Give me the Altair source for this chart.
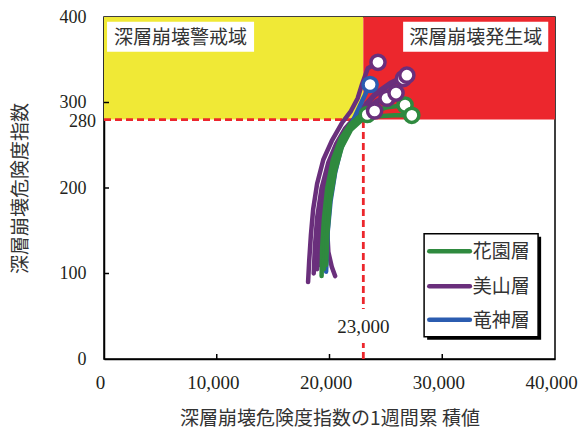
import altair as alt
import pandas as pd

# ---- series (cumulative 1-week index, danger index) per rainfall event ----
FORMATIONS = ["花園層", "美山層", "竜神層"]
COLORS = ["#2f8a3f", "#6a2f7c", "#2b5cb0"]

hanazono_a_x = [19300, 19350, 19500, 19800, 20300, 21000, 21800, 22600, 23350]
hanazono_a_y = [97, 130, 163, 200, 233, 258, 274, 283, 286]
hanazono_b_x = [19500, 19600, 19800, 20200, 20700, 21500, 22400, 23500, 25000, 26700]
hanazono_b_y = [105, 140, 175, 210, 240, 262, 278, 288, 294, 297]
hanazono_c_x = [19700, 19800, 20050, 20500, 21100, 21900, 22900, 24300, 25800, 27300]
hanazono_c_y = [110, 145, 185, 220, 248, 268, 280, 284, 285, 285]

miyama_a_x = [18100, 18200, 18350, 18550, 18900, 19450, 20200, 21100, 21900, 22500, 22900, 23400, 24300]
miyama_a_y = [90, 115, 145, 175, 205, 233, 255, 276, 290, 305, 322, 340, 347]
miyama_b_x = [20500, 20200, 19900, 19800, 19900, 20200, 20700, 21300, 22000, 22800, 23500, 24000]
miyama_b_y = [97, 108, 125, 150, 185, 215, 242, 262, 276, 286, 290, 290]
miyama_c_x = [18600, 18700, 18900, 19300, 19900, 20600, 21400, 22300, 23300, 24200, 25100]
miyama_c_y = [100, 130, 165, 200, 230, 252, 270, 283, 294, 300, 305]
miyama_d_x = [18900, 19000, 19250, 19700, 20300, 21100, 22000, 23000, 24200, 25900]
miyama_d_y = [105, 135, 170, 205, 235, 258, 275, 290, 302, 311]
miyama_e_x = [19100, 19200, 19500, 20000, 20800, 21800, 22900, 24000, 25300, 26560]
miyama_e_y = [110, 145, 185, 220, 250, 272, 292, 308, 320, 328]
miyama_f_x = [19200, 19300, 19600, 20100, 20900, 21900, 23000, 24100, 25400, 26860]
miyama_f_y = [115, 150, 190, 225, 253, 275, 295, 311, 323, 332]

ryujin_a_x = [19700, 19750, 19850, 20100, 20500, 21000, 21600, 22300, 22900, 23300, 23600]
ryujin_a_y = [102, 120, 150, 185, 218, 245, 265, 285, 302, 313, 321]

traces = [
    ("美山層", "m_a", miyama_a_x, miyama_a_y),
    ("美山層", "m_b", miyama_b_x, miyama_b_y),
    ("美山層", "m_c", miyama_c_x, miyama_c_y),
    ("美山層", "m_d", miyama_d_x, miyama_d_y),
    ("美山層", "m_e", miyama_e_x, miyama_e_y),
    ("美山層", "m_f", miyama_f_x, miyama_f_y),
    ("竜神層", "r_a", ryujin_a_x, ryujin_a_y),
    ("花園層", "h_a", hanazono_a_x, hanazono_a_y),
    ("花園層", "h_b", hanazono_b_x, hanazono_b_y),
    ("花園層", "h_c", hanazono_c_x, hanazono_c_y),
]

THRESHOLD_X = 23000
THRESHOLD_Y = 280

X_TICKS = [0, 10000, 20000, 30000, 40000]
Y_TICKS = [0, 100, 200, 300, 400]

rows = []
for formation, tid, xs, ys in traces:
    for i, (x, y) in enumerate(zip(xs, ys)):
        rows.append({"formation": formation, "trace": tid, "step": i, "x": x, "y": y})
lines_df = pd.DataFrame(rows)

# end point of every event, drawn as an open circle
ends_df = lines_df.groupby("trace", sort=False).tail(1).copy()
circle_order = {"花園層": 0, "竜神層": 1, "美山層": 2}
ends_df["z"] = ends_df["formation"].map(circle_order)
ends_df = ends_df.sort_values("z", kind="stable")

zones_df = pd.DataFrame({
    "x": [0, THRESHOLD_X], "x2": [THRESHOLD_X, 40000],
    "y": [THRESHOLD_Y, THRESHOLD_Y], "y2": [400, 400],
    "fill": ["#f0e936", "#ec272d"],
})
zone_labels_df = pd.DataFrame({
    "label": ["深層崩壊警戒域", "深層崩壊発生域"],
    "x": [270, 26530], "x2": [13310, 39400],
    "y": [359.5, 359.5], "y2": [394.5, 394.5],
})
zone_labels_df["xc"] = (zone_labels_df["x"] + zone_labels_df["x2"]) / 2
zone_labels_df["yc"] = (zone_labels_df["y"] + zone_labels_df["y2"]) / 2

# legend panel, laid out in the plot's own data coordinates (lower right)
LEG_BOX = {"x": 28390, "x2": 38500, "y": 26, "y2": 146.5}
LEG_SHADOW = {"x": 28660, "x2": 38770, "y": 22.5, "y2": 143}
legend_df = pd.DataFrame({
    "formation": FORMATIONS,
    "x": [28850] * 3, "x2": [32450] * 3, "xt": [32700] * 3,
    "y": [126, 85, 46],
})

W, H = 451, 342
SERIF = "Liberation Serif"
CJK = "Noto Sans CJK JP"

xscale = alt.Scale(domain=[0, 40000], nice=False, zero=False)
yscale = alt.Scale(domain=[0, 400], nice=False, zero=False)
cscale = alt.Scale(domain=FORMATIONS, range=COLORS)

xaxis = alt.Axis(values=X_TICKS, format=",", labelExpr="format(datum.value, ',')",
                 title="深層崩壊危険度指数の1週間累 積値",
                 ticks=False, grid=False, labelFlush=False, labelPadding=14,
                 labelOffset=-4, titlePadding=17)
yaxis = alt.Axis(values=Y_TICKS, format="d", title="深層崩壊危険度指数", ticks=False, grid=False,
                 labelPadding=18, labelFontSize=18, titlePadding=29)

zones = alt.Chart(zones_df).mark_rect().encode(
    x=alt.X("x:Q", scale=xscale, axis=xaxis), x2="x2:Q",
    y=alt.Y("y:Q", scale=yscale, axis=yaxis), y2="y2:Q",
    fill=alt.Fill("fill:N", scale=None),
)

label_boxes = alt.Chart(zone_labels_df).mark_rect(fill="white").encode(
    x="x:Q", x2="x2:Q", y="y:Q", y2="y2:Q"
)
label_text = alt.Chart(zone_labels_df).mark_text(
    font=CJK, fontSize=19, color="#333333", align="center", baseline="middle", dy=1
).encode(x="xc:Q", y="yc:Q", text="label:N")

h_dash = alt.Chart(pd.DataFrame({"x": [0], "x2": [THRESHOLD_X], "y": [THRESHOLD_Y]})).mark_rule(
    color="#ec272d", strokeWidth=2.8, strokeDash=[7, 4]
).encode(x="x:Q", x2="x2:Q", y="y:Q")
v_dash = alt.Chart(pd.DataFrame({"x": [THRESHOLD_X], "y": [0], "y2": [THRESHOLD_Y]})).mark_rule(
    color="#ec272d", strokeWidth=2.8, strokeDash=[7, 4]
).encode(x="x:Q", y="y:Q", y2="y2:Q")

# inward tick marks
x_ticks = alt.Chart(pd.DataFrame({"v": X_TICKS[1:-1]})).mark_rule(color="black", strokeWidth=1.5).encode(
    x="v:Q", y=alt.value(H), y2=alt.value(H - 5)
)
y_ticks = alt.Chart(pd.DataFrame({"v": Y_TICKS[1:-1]})).mark_rule(color="black", strokeWidth=1.5).encode(
    y="v:Q", x=alt.value(0), x2=alt.value(5)
)

curves = alt.Chart(lines_df).mark_line(strokeWidth=4.5, strokeCap="round", strokeJoin="round").encode(
    x="x:Q", y="y:Q",
    color=alt.Color("formation:N", scale=cscale, legend=None),
    detail="trace:N", order="step:Q",
)

ends = alt.Chart(ends_df).mark_point(
    filled=False, fill="white", fillOpacity=1, size=200, strokeWidth=3.5, opacity=1
).encode(
    x="x:Q", y="y:Q",
    stroke=alt.Stroke("formation:N", scale=cscale, legend=None),
    order="z:Q",
)

# white gap in the vertical threshold line behind its value label
tval_box = alt.Chart(pd.DataFrame({"x": [22750], "x2": [23250]})).mark_rect(fill="white").encode(
    x="x:Q", x2="x2:Q", y=alt.value(292), y2=alt.value(326)
)
tval_text = alt.Chart(pd.DataFrame({"x": [THRESHOLD_X], "t": ["23,000"]})).mark_text(
    font=SERIF, fontSize=19, color="#231f20", align="center", baseline="middle"
).encode(x="x:Q", y=alt.value(310), text="t:N")

y280 = alt.Chart(pd.DataFrame({"y": [THRESHOLD_Y], "t": ["280"]})).mark_text(
    font=SERIF, fontSize=18, color="#231f20", align="right", baseline="middle", dy=2
).encode(x=alt.value(-8), y="y:Q", text="t:N")

leg_shadow = alt.Chart(pd.DataFrame([LEG_SHADOW])).mark_rect(fill="black").encode(
    x="x:Q", x2="x2:Q", y="y:Q", y2="y2:Q"
)
leg_box = alt.Chart(pd.DataFrame([LEG_BOX])).mark_rect(
    fill="white", stroke="black", strokeWidth=1.5
).encode(x="x:Q", x2="x2:Q", y="y:Q", y2="y2:Q")
leg_lines = alt.Chart(legend_df).mark_rule(strokeWidth=4.5, strokeCap="round").encode(
    x="x:Q", x2="x2:Q", y="y:Q",
    color=alt.Color("formation:N", scale=cscale, legend=None),
)
leg_text = alt.Chart(legend_df).mark_text(
    font=CJK, fontSize=19, color="#333333", align="left", baseline="middle", dy=1
).encode(x="xt:Q", y="y:Q", text="formation:N")

chart = alt.layer(
    zones, label_boxes, label_text, h_dash, v_dash, tval_box, tval_text,
    x_ticks, y_ticks, curves, ends, y280,
    leg_shadow, leg_box, leg_lines, leg_text,
).properties(
    width=W, height=H,
    background="white",
    autosize=alt.AutoSizeParams(type="none"),
    padding={"left": 104, "top": 17, "right": 24, "bottom": 71},
).configure_view(
    stroke="black", strokeWidth=1.5
).configure_axis(
    labelFont=SERIF, labelFontSize=19, labelColor="#231f20",
    titleFont=CJK, titleFontSize=19, titleColor="#333333", titleFontWeight="normal",
    domainColor="black", domainWidth=1.5,
)

chart.save("out.html", embed_options={"renderer": "svg", "actions": False})
